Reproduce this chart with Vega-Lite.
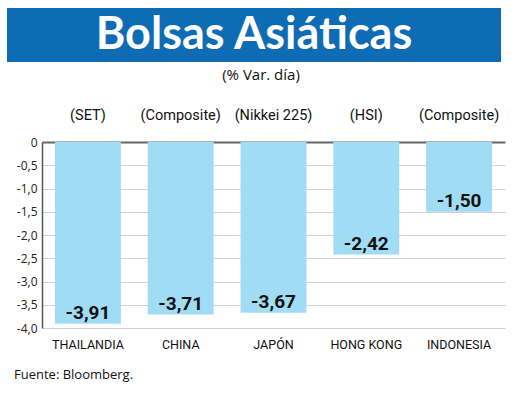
{
  "$schema": "https://vega.github.io/schema/vega-lite/v6.json",
  "padding": {"left": 7, "top": 8, "right": 5, "bottom": 5},
  "background": "white",
  "spacing": 6,
  "config": {
    "locale": {"number": {"decimal": ",", "thousands": ".", "grouping": [3], "currency": ["", ""], "minus": "-"}},
    "view": {"stroke": null},
    "axisY": {
      "title": null, "grid": true, "gridColor": "#d0d0d0", "gridWidth": 1,
      "domain": true, "domainColor": "#555555", "domainWidth": 1.5,
      "ticks": false, "labelPadding": 5, "labelFont": "Open Sans", "labelFontSize": 12,
      "labelColor": "#222222", "labelOverlap": false
    },
    "axisX": {
      "title": null, "domain": false, "ticks": false, "labelPadding": 10,
      "labelFont": "Roboto", "labelFontSize": 12.5, "labelColor": "#111111", "labelAngle": 0
    }
  },
  "title": {
    "text": "Fuente: Bloomberg.", "orient": "bottom", "anchor": "start", "dx": 7,
    "font": "Open Sans", "fontSize": 13, "fontWeight": "normal", "color": "#111111", "offset": 18
  },
  "datasets": {
    "bolsas": [
      {"pais": "THAILANDIA", "indice": "(SET)", "var": -3.91},
      {"pais": "CHINA", "indice": "(Composite)", "var": -3.71},
      {"pais": "JAPÓN", "indice": "(Nikkei 225)", "var": -3.67},
      {"pais": "HONG KONG", "indice": "(HSI)", "var": -2.42},
      {"pais": "INDONESIA", "indice": "(Composite)", "var": -1.50}
    ]
  },
  "vconcat": [
    {
      "width": 494,
      "height": 54,
      "view": {"fill": "#0e6cb4", "stroke": null},
      "data": {"values": [{"titulo": "Bolsas Asiáticas"}]},
      "mark": {"type": "text", "font": "Lato", "fontWeight": "bold", "fontSize": 45, "color": "white", "baseline": "middle", "align": "center"},
      "encoding": {"text": {"field": "titulo"}}
    },
    {
      "width": 498,
      "height": 186,
      "title": {"text": "(% Var. día)", "font": "Open Sans", "fontSize": 15, "fontWeight": "normal", "color": "#111111", "anchor": "middle", "offset": 25, "dx": 5},
      "data": {"name": "bolsas"},
      "layer": [
        {
          "mark": {"type": "bar", "color": "#a0ddf5"},
          "encoding": {
            "x": {"field": "pais", "type": "nominal", "sort": null, "scale": {"paddingInner": 0.29, "paddingOuter": 0.14, "rangeMin": 35}},
            "y": {"field": "var", "type": "quantitative", "scale": {"domain": [-4, 0], "nice": false},
                  "axis": {"values": [0, -0.5, -1, -1.5, -2, -2.5, -3, -3.5, -4], "format": ".1f", "labelExpr": "datum.value == 0 ? '0' : datum.label", "offset": -35,
                           "gridColor": {"condition": {"test": "datum.value == 0", "value": "#666666"}, "value": "#d0d0d0"},
                           "gridWidth": {"condition": {"test": "datum.value == 0", "value": 2}, "value": 1}}}
          }
        },
        {
          "mark": {"type": "text", "font": "Roboto", "fontSize": 14.5, "baseline": "bottom", "dy": -19, "color": "#111111"},
          "encoding": {
            "x": {"field": "pais", "type": "nominal", "sort": null},
            "y": {"datum": 0, "type": "quantitative",
                  "axis": {"values": [0, -0.5, -1, -1.5, -2, -2.5, -3, -3.5, -4], "format": ".1f", "labelExpr": "datum.value == 0 ? '0' : datum.label", "offset": -35,
                           "gridColor": {"condition": {"test": "datum.value == 0", "value": "#666666"}, "value": "#d0d0d0"},
                           "gridWidth": {"condition": {"test": "datum.value == 0", "value": 2}, "value": 1}}},
            "text": {"field": "indice"}
          }
        },
        {
          "mark": {"type": "text", "font": "Roboto", "fontWeight": "bold", "fontSize": 19, "baseline": "alphabetic", "dy": -5, "color": "#111111"},
          "encoding": {
            "x": {"field": "pais", "type": "nominal", "sort": null},
            "y": {"field": "var", "type": "quantitative",
                  "axis": {"values": [0, -0.5, -1, -1.5, -2, -2.5, -3, -3.5, -4], "format": ".1f", "labelExpr": "datum.value == 0 ? '0' : datum.label", "offset": -35,
                           "gridColor": {"condition": {"test": "datum.value == 0", "value": "#666666"}, "value": "#d0d0d0"},
                           "gridWidth": {"condition": {"test": "datum.value == 0", "value": 2}, "value": 1}}},
            "text": {"field": "var", "type": "quantitative", "format": ".2f"}
          }
        }
      ]
    }
  ]
}
